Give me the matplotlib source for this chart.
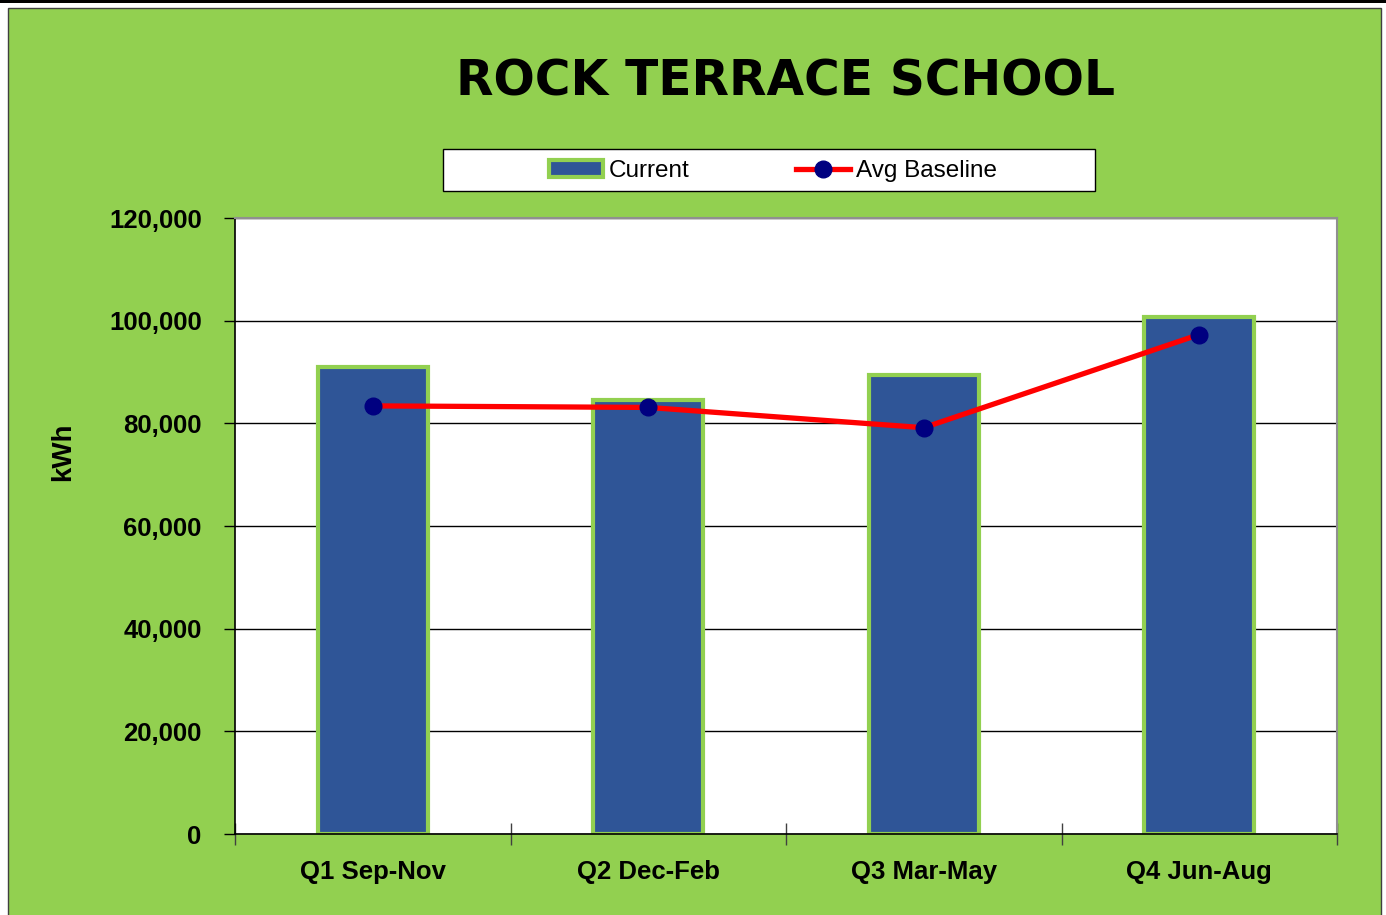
import matplotlib.pyplot as plt
from matplotlib.patches import Rectangle
from matplotlib.lines import Line2D
from matplotlib.ticker import FuncFormatter, MultipleLocator
import numpy as np

title = "ROCK TERRACE SCHOOL"
quarters = ["Q1 Sep-Nov", "Q2 Dec-Feb", "Q3 Mar-May", "Q4 Jun-Aug"]
current = [91000, 84500, 89400, 100700]
avg_baseline = [83400, 83100, 79150, 97300]

GREEN = "#92d050"
BAR = "#2f5597"
NARROW = ["Liberation Sans Narrow", "Liberation Sans", "DejaVu Sans"]

W, H = 1386, 915
fig = plt.figure(figsize=(W / 100, H / 100), dpi=100, facecolor="white")

# page frame: black rule on top, green chart area with thin border
fig.patches.append(Rectangle((0, 1 - 2.5 / H), 1, 2.5 / H, transform=fig.transFigure,
                             facecolor="black", edgecolor="none", zorder=-2))
fig.patches.append(Rectangle((8 / W, -0.01), (1381 - 8) / W, (H - 8) / H + 0.01,
                             transform=fig.transFigure, facecolor=GREEN,
                             edgecolor="#404040", linewidth=1.0, zorder=-2))
# legend box
fig.patches.append(Rectangle((443 / W, 1 - 191 / H), 652 / W, 42 / H,
                             transform=fig.transFigure, facecolor="white",
                             edgecolor="black", linewidth=1.0, zorder=-1))

ax = fig.add_axes([235 / W, (H - 834) / H, (1337 - 235) / W, (834 - 218) / H])
ax.set_facecolor("white")

x = np.arange(len(quarters))
ax.bar(x, current, width=0.4, color=BAR, edgecolor=GREEN, linewidth=3, zorder=2)
ax.plot(x, avg_baseline, color="red", linewidth=3.8, marker="o", markersize=12,
        markerfacecolor="#000080", markeredgecolor="#000080", zorder=3)

ax.set_xlim(-0.5, len(quarters) - 0.5)
ax.set_ylim(0, 120000)
ax.yaxis.set_major_locator(MultipleLocator(20000))
ax.yaxis.set_major_formatter(FuncFormatter(lambda v, p: f"{int(v):,}"))
ax.grid(axis="y", color="black", linewidth=1.0, zorder=1)
ax.set_axisbelow(True)

ax.set_xticks(x)
ax.set_xticklabels(quarters)
ax.set_xticks(np.arange(-0.5, len(quarters), 1), minor=True)
ax.tick_params(axis="x", which="major", length=0, pad=19)
ax.tick_params(axis="x", which="minor", direction="inout", length=16, width=1, color="#404040")
ax.tick_params(axis="y", direction="out", length=8, width=1, pad=16)

for lab in ax.get_xticklabels() + ax.get_yticklabels():
    lab.set_family(NARROW)
    lab.set_fontweight("bold")
    lab.set_fontsize(18.5)

for s in ("top", "right"):
    ax.spines[s].set_color("#909090")
    ax.spines[s].set_linewidth(1.5)
for s in ("left", "bottom"):
    ax.spines[s].set_color("black")
    ax.spines[s].set_linewidth(1.2)

fig.text(63 / W, 1 - 452 / H, "kWh", rotation=90, ha="center", va="center",
         family=NARROW, fontweight="bold", fontsize=20)
fig.text(785 / W, 1 - 82 / H, title, ha="center", va="center",
         family=["DejaVu Sans"], fontweight="heavy", fontsize=35)

handles = [
    Rectangle((0, 0), 1, 1, facecolor=BAR, edgecolor=GREEN, linewidth=3),
    Line2D([], [], color="red", linewidth=3.8, marker="o", markersize=12,
           markerfacecolor="#000080", markeredgecolor="#000080"),
]
leg = fig.legend(handles, ["Current", "Avg Baseline"], loc="center",
                 bbox_to_anchor=(773 / W, 1 - 171 / H), ncol=2, frameon=False,
                 prop={"family": NARROW, "size": 17.5}, handlelength=2.2,
                 handletextpad=0.25, columnspacing=4.4, borderpad=0.3)

fig.savefig("out.png", dpi=100, facecolor=fig.get_facecolor())
